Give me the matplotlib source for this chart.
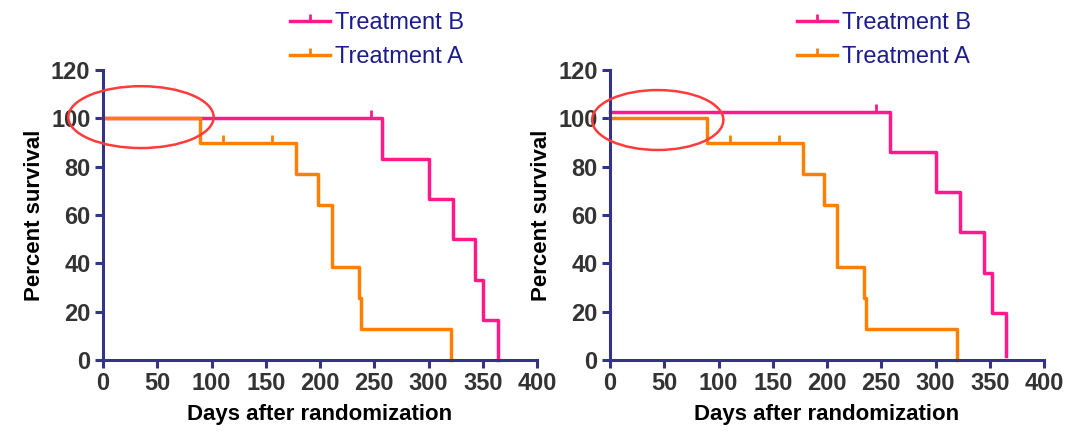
import matplotlib
matplotlib.use("Agg")
import matplotlib.pyplot as plt
from matplotlib.lines import Line2D
from matplotlib.patches import Ellipse

plt.rcParams['font.family'] = ['Liberation Sans', 'DejaVu Sans']

# left panel: Kaplan-Meier steps (time of drop, survival after drop)
left_a_days = [0, 89, 178, 198, 211, 235.5, 238, 321]
left_a_surv = [100, 90, 77.1, 64.3, 38.6, 25.7, 12.9, 0]
left_a_cens_days = [111, 155.5]
left_a_cens_surv = [90, 90]

left_b_days = [0, 257.5, 300, 322.5, 343, 350, 364.5]
left_b_surv = [100, 83.3, 66.7, 50, 33.3, 16.7, 0]
left_b_cens_days = [247]
left_b_cens_surv = [100]

# right panel: same study, Treatment B curve lifted slightly
right_a_days = [0, 89, 177.5, 197.5, 209.5, 233.7, 235.5, 320]
right_a_surv = [100, 90, 77.1, 64.3, 38.6, 25.7, 12.9, 0]
right_a_cens_days = [111, 155.7]
right_a_cens_surv = [90, 90]

right_b_days = [0, 257.7, 300.8, 322.3, 344.5, 352.5, 364.8]
right_b_surv = [102.7, 86, 69.5, 53, 36, 19.5, 1.5]
right_b_cens_days = [245]
right_b_cens_surv = [102.7]

# highlighted region (center days, center %, width days, height %)
left_ellipse = (35, 100.5, 134, 25.6)
right_ellipse = (44, 99.3, 121, 24.8)

x_ticks = [0, 50, 100, 150, 200, 250, 300, 350, 400]
y_ticks = [0, 20, 40, 60, 80, 100, 120]

PINK = '#ff1a8c'
ORANGE = '#ff8000'
NAVY = '#333388'
LEG_TXT = '#1c1c8c'
TICKUP = 2  # matplotlib TICKUP marker


def draw_panel(ax, a_days, a_surv, a_cd, a_cs, b_days, b_surv, b_cd, b_cs, ell):
    ax.step(b_days, b_surv, where='post', color=PINK, lw=2.5, clip_on=False, zorder=3)
    ax.plot(b_cd, b_cs, ls='none', marker=TICKUP, ms=6, mew=2, color=PINK, zorder=3)
    ax.step(a_days, a_surv, where='post', color=ORANGE, lw=2.5, clip_on=False, zorder=4)
    ax.plot(a_cd, a_cs, ls='none', marker=TICKUP, ms=6, mew=2, color=ORANGE, zorder=4)

    e = Ellipse((ell[0], ell[1]), ell[2], ell[3], fill=False, ec='#ff3b3b',
                lw=1.8, clip_on=False, zorder=6)
    ax.add_patch(e)

    ax.set_xlim(0, 400)
    ax.set_ylim(0, 120)
    ax.set_xticks(x_ticks)
    ax.set_yticks(y_ticks)
    for s in ['top', 'right']:
        ax.spines[s].set_visible(False)
    for s in ['left', 'bottom']:
        ax.spines[s].set_color(NAVY)
        ax.spines[s].set_linewidth(2.2)
        ax.spines[s].set_zorder(5)
    ax.tick_params(colors=NAVY, width=2.2, length=6, pad=3)
    for lab in ax.get_xticklabels() + ax.get_yticklabels():
        lab.set_color('#333333')
        lab.set_fontsize(17)
        lab.set_fontweight('bold')
    ax.set_xlabel('Days after randomization', fontsize=16, fontweight='bold', labelpad=6)
    ax.set_ylabel('Percent survival', fontsize=16, fontweight='bold', labelpad=4)

    handles = [Line2D([], [], color=PINK, lw=2.5, marker=TICKUP, ms=5, mew=2),
               Line2D([], [], color=ORANGE, lw=2.5, marker=TICKUP, ms=5, mew=2)]
    leg = ax.legend(handles, ['Treatment B', 'Treatment A'], loc='upper left',
                    bbox_to_anchor=(0.403, 1.24), frameon=False, fontsize=17,
                    handlelength=1.7, handletextpad=0.2, labelspacing=0.5,
                    borderpad=0, numpoints=1)
    for t in leg.get_texts():
        t.set_color(LEG_TXT)


fig = plt.figure(figsize=(10.7, 4.37), dpi=100)
ax1 = fig.add_axes([103 / 1070, 77 / 437, 434 / 1070, 290 / 437])
ax2 = fig.add_axes([610 / 1070, 77 / 437, 434 / 1070, 290 / 437])

draw_panel(ax1, left_a_days, left_a_surv, left_a_cens_days, left_a_cens_surv,
           left_b_days, left_b_surv, left_b_cens_days, left_b_cens_surv, left_ellipse)
draw_panel(ax2, right_a_days, right_a_surv, right_a_cens_days, right_a_cens_surv,
           right_b_days, right_b_surv, right_b_cens_days, right_b_cens_surv, right_ellipse)

fig.savefig('out.png', dpi=100)
